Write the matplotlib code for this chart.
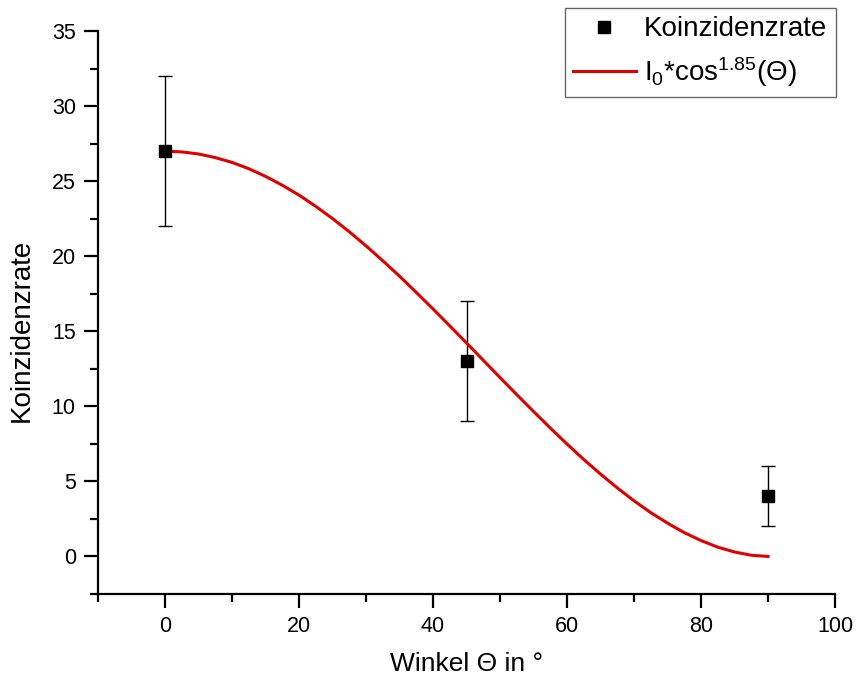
import matplotlib
matplotlib.use('Agg')
import matplotlib.pyplot as plt
from matplotlib.ticker import MultipleLocator

plt.rcParams['font.family'] = ['Liberation Sans', 'DejaVu Sans']
plt.rcParams['mathtext.default'] = 'regular'

# measured coincidence rates
angle = [0, 45, 90]
rate = [27, 13, 4]
rate_err = [5, 4, 2]

# fit curve (I0*cos^1.85)
fit_angle = [0, 2.5, 5, 7.5, 10, 12.5, 15, 17.5, 20, 22.5, 25, 27.5, 30, 32.5,
             35, 37.5, 40, 42.5, 45, 47.5, 50, 52.5, 55, 57.5, 60, 62.5, 65,
             67.5, 70, 72.5, 75, 77.5, 80, 82.5, 85, 87.5, 90]
fit_rate = [27.0, 26.95, 26.81, 26.57, 26.25, 25.83, 25.32, 24.73, 24.07, 23.32,
            22.51, 21.63, 20.69, 19.70, 18.67, 17.59, 16.49, 15.36, 14.22, 13.07,
            11.92, 10.78, 9.66, 8.56, 7.49, 6.46, 5.49, 4.57, 3.71, 2.92,
            2.22, 1.59, 1.06, 0.62, 0.30, 0.08, 0.0]

fig = plt.figure(figsize=(8.57, 6.79), dpi=100)
ax = fig.add_axes([0.1144, 0.1252, 0.8599, 0.8291])

ax.errorbar(angle, rate, yerr=rate_err, fmt='none', ecolor='black',
            elinewidth=1, capsize=5, capthick=1, zorder=2)
pts, = ax.plot(angle, rate, linestyle='none', marker='s', markersize=8.5,
               color='black', label='Koinzidenzrate', zorder=4)
fit, = ax.plot(fit_angle, fit_rate, color='#e00000', linewidth=2.2,
               label='I$_0$*cos$^{1.85}$(Θ)', zorder=3)

ax.set_xlim(-10, 100)
ax.set_ylim(-2.5, 35)
ax.xaxis.set_major_locator(MultipleLocator(20))
ax.xaxis.set_minor_locator(MultipleLocator(10))
ax.yaxis.set_major_locator(MultipleLocator(5))
ax.yaxis.set_minor_locator(MultipleLocator(2.5))

for s in ['top', 'right']:
    ax.spines[s].set_visible(False)
for s in ['left', 'bottom']:
    ax.spines[s].set_linewidth(1.6)

ax.tick_params(which='major', direction='out', length=10, width=1.6, labelsize=15.5, pad=6)
ax.tick_params(which='minor', direction='out', length=6, width=1.6)

ax.set_xlabel('Winkel Θ in °', fontsize=19, labelpad=11)
ax.set_ylabel('Koinzidenzrate', fontsize=20)
ax.yaxis.set_label_coords(-0.086, 0.469)

leg = fig.legend(handles=[pts, fit], loc='upper right',
                 bbox_to_anchor=(0.975, 0.988), fontsize=20, frameon=True,
                 fancybox=False, edgecolor='#404040', borderpad=0.3,
                 borderaxespad=0, handlelength=2.27, handletextpad=0.29,
                 labelspacing=0.45)
leg.get_frame().set_linewidth(1.0)

fig.savefig('out.png', dpi=100)
